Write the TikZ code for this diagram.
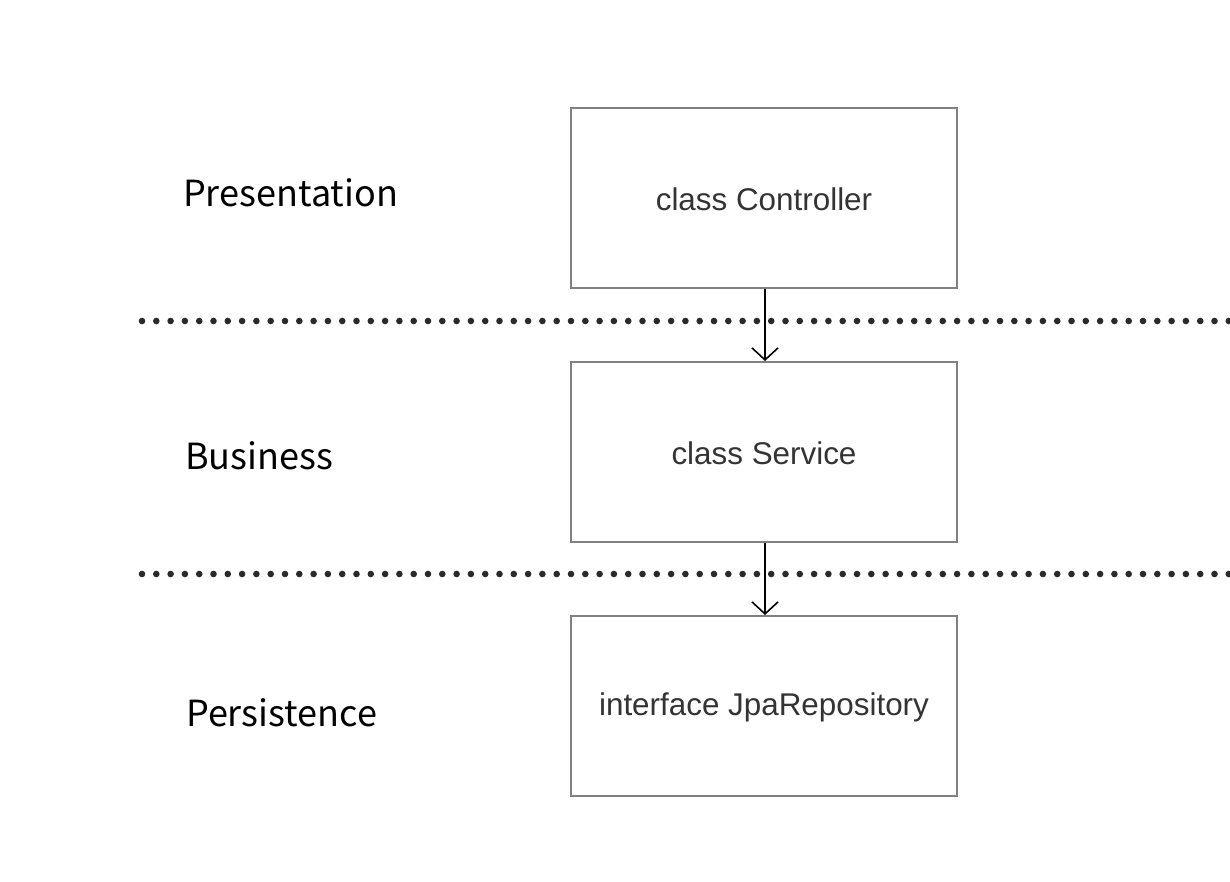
\documentclass[tikz,border=0pt]{standalone}
\usepackage{fontspec}
\setmainfont{Liberation Sans}
\newfontfamily\labelfont{Noto Sans CJK SC}
\usetikzlibrary{arrows.meta}
\definecolor{boxgray}{HTML}{808080}
\definecolor{txtgray}{HTML}{333333}
\definecolor{dotgray}{HTML}{2A2A2A}
\begin{document}
\begin{tikzpicture}[x=1pt,y=-1pt,
  layerbox/.style={draw=boxgray, line width=2pt, minimum width=386pt, minimum height=180pt, inner sep=0pt},
  boxtext/.style={font=\fontsize{31.4}{36}\selectfont, text=txtgray, inner sep=0pt},
  layerlabel/.style={anchor=west, font=\labelfont\fontsize{36}{43}\selectfont, text=black, inner sep=0pt},
  dotline/.style={dotgray, line width=6.6pt, line cap=round, dash pattern=on 0pt off 14.3pt},
  flow/.style={black, line width=1.6pt, -{Straight Barb[length=12pt, width=26pt, line width=1.6pt]}}]
\useasboundingbox (0,0) rectangle (1230,882);
\node[layerbox] (ctrl) at (764,198) {};
\node[layerbox] (serv) at (764,452) {};
\node[layerbox] (repo) at (764,706) {};
\node[boxtext] (ctrlt) at (764,199) {class Controller};
\node[boxtext] (servt) at (764,453) {class Service};
\node[boxtext] (repot) at (764,707) {interface JpaRepository};
\node[layerlabel] (pres) at (183,193) {Presentation};
\node[layerlabel] (bus) at (185,456) {Business};
\node[layerlabel] (pers) at (186,713) {Persistence};
\coordinate (d1a) at (142,321); \coordinate (d1b) at (1240,321);
\coordinate (d2a) at (142,574); \coordinate (d2b) at (1240,574);
\draw[dotline] (d1a) -- (d1b);
\draw[dotline] (d2a) -- (d2b);
\draw[flow] ([xshift=1pt]ctrl.south) -- ([xshift=1pt]serv.north);
\draw[flow] ([xshift=1pt]serv.south) -- ([xshift=1pt]repo.north);
\end{tikzpicture}
\end{document}
